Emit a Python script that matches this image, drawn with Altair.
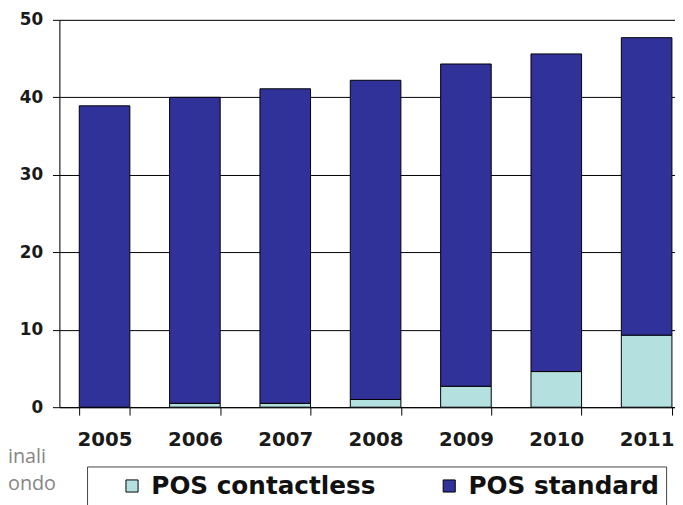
import altair as alt
import pandas as pd

years = ["2005", "2006", "2007", "2008", "2009", "2010", "2011"]
contactless = [0.0, 0.5, 0.5, 1.0, 2.7, 4.6, 9.3]
totals = [38.9, 40.0, 41.1, 42.2, 44.3, 45.6, 47.7]
standard = [round(t - c, 1) for t, c in zip(totals, contactless)]
series = ["POS contactless", "POS standard"]
colors = ["#b4e0e0", "#31319a"]
y_ticks = [0, 10, 20, 30, 40, 50]
side_text = ["inali", "ondo"]

rows = []
for yr, c, s in zip(years, contactless, standard):
    rows.append({"year": yr, "serie": series[0], "value": c, "ord": 0})
    rows.append({"year": yr, "serie": series[1], "value": s, "ord": 1})
df = pd.DataFrame(rows)

FONT = "DejaVu Sans"

bars = alt.Chart(df).mark_bar(stroke="black", strokeWidth=1).encode(
    x=alt.X(
        "year:N",
        sort=years,
        scale=alt.Scale(paddingInner=0.44, paddingOuter=0.22, range=[0, 640]),
        axis=alt.Axis(
            title=None, labelAngle=0, tickBand="extent", tickSize=8,
            tickColor="black", domainColor="black", domainWidth=1,
            labelFont=FONT, labelFontWeight="bold", labelFontSize=20,
            labelColor="#1a1a1a", labelPadding=15, grid=False,
        ),
    ),
    y=alt.Y(
        "value:Q",
        stack="zero",
        scale=alt.Scale(domain=[0, 50], nice=False),
        axis=alt.Axis(
            title=None, values=y_ticks, tickSize=7, tickColor="black",
            domainColor="black", domainWidth=1, grid=True,
            gridColor="black", gridWidth=1, gridOpacity=1,
            labelFont=FONT, labelFontWeight="bold", labelFontSize=17,
            labelColor="#1a1a1a", labelPadding=10,
        ),
    ),
    color=alt.Color(
        "serie:N",
        scale=alt.Scale(domain=series, range=colors),
        legend=alt.Legend(
            orient="none", legendX=28, legendY=452, direction="horizontal",
            title=" ", titleOrient="left", titleFontSize=4, titlePadding=26,
            strokeColor="#444444", padding=7,
            symbolType="square", symbolSize=150, symbolStrokeColor="black",
            symbolStrokeWidth=1, symbolOpacity=1,
            labelFont=FONT, labelFontSize=25, labelFontWeight="bold",
            labelColor="#111111", labelOffset=7, columnPadding=62,
            labelLimit=400,
        ),
    ),
    order=alt.Order("ord:Q"),
)

t1 = alt.Chart(pd.DataFrame({"t": [side_text[0]]})).mark_text(
    align="left", baseline="alphabetic", font="Open Sans", fontSize=20, color="#858585"
).encode(text="t:N", x=alt.value(-52), y=alt.value(448))

t2 = alt.Chart(pd.DataFrame({"t": [side_text[1]]})).mark_text(
    align="left", baseline="alphabetic", font="Open Sans", fontSize=20, color="#858585"
).encode(text="t:N", x=alt.value(-52), y=alt.value(476))

chart = alt.layer(bars, t1, t2).properties(
    width=623, height=392,
    autosize=alt.AutoSizeParams(type="none"),
    padding={"left": 52, "top": 9, "right": 0, "bottom": 96},
).configure_view(stroke=None).configure(background="white")

chart.save("out.html", embed_options={"renderer": "svg", "actions": False})
